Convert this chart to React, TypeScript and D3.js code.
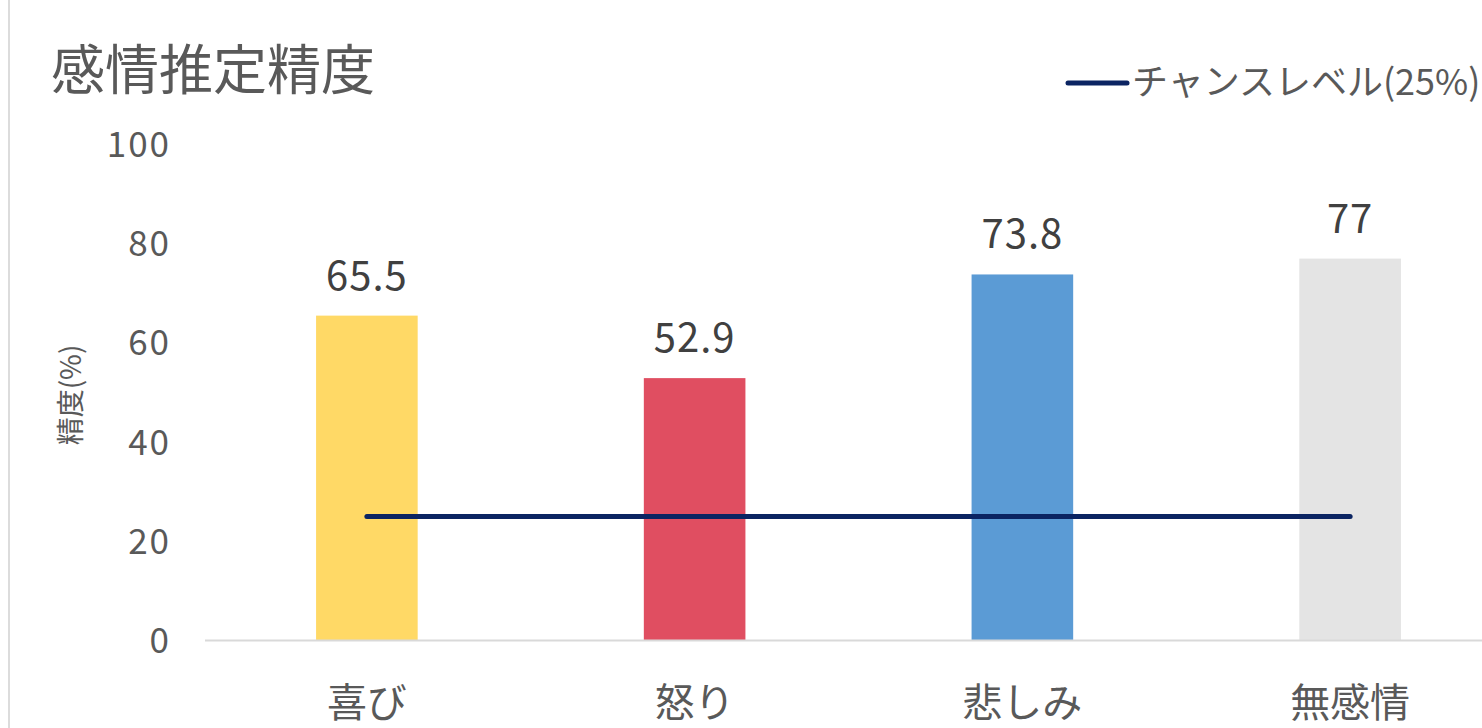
import React, { useRef, useEffect } from 'react';
import * as d3 from 'd3';

const categories = ['喜び', '怒り', '悲しみ', '無感情'];
const accuracy = [65.5, 52.9, 73.8, 77];
const barColors = ['#FFD966', '#E04E61', '#5B9BD5', '#E4E4E4'];
const chanceLevel = 25;
const yTicks = [0, 20, 40, 60, 80, 100];

const FONT = '"Noto Sans CJK JP", "Noto Sans", sans-serif';

const App: React.FC = () => {
  const ref = useRef<SVGSVGElement>(null);

  useEffect(() => {
    if (!ref.current) return;
    const svg = d3.select(ref.current);
    svg.selectAll('*').remove();

    const width = 1482;

    const x = d3.scaleBand<string>()
      .domain(categories)
      .range([203, 1514])
      .paddingInner(0.69)
      .paddingOuter(0.345);

    const y = d3.scaleLinear()
      .domain([0, 100])
      .range([640.5, 144.5]);

    // left frame edge
    svg.append('line')
      .attr('x1', 9).attr('x2', 9)
      .attr('y1', 0).attr('y2', 728)
      .attr('stroke', '#dcdcdc')
      .attr('stroke-width', 2);

    // title
    svg.append('text')
      .attr('x', 51)
      .attr('y', 90)
      .attr('font-family', FONT)
      .attr('font-size', 54)
      .attr('fill', '#595959')
      .text('感情推定精度');

    // legend
    svg.append('line')
      .attr('x1', 1068).attr('x2', 1127)
      .attr('y1', 83).attr('y2', 83)
      .attr('stroke', '#0B2462')
      .attr('stroke-width', 5)
      .attr('stroke-linecap', 'round');
    svg.append('text')
      .attr('x', 1132)
      .attr('y', 95)
      .attr('font-family', FONT)
      .attr('font-size', 36)
      .attr('fill', '#595959')
      .text('チャンスレベル(25%)');

    // y axis
    const yAxis = d3.axisLeft(y).tickValues(yTicks).tickSize(0).tickPadding(0);
    const gy = svg.append('g')
      .attr('transform', 'translate(171,0)')
      .call(yAxis);
    gy.select('.domain').remove();
    gy.selectAll('text')
      .attr('font-family', FONT)
      .attr('font-size', 35)
      .attr('letter-spacing', 2)
      .attr('fill', '#595959')
      .attr('dy', '0.34em');

    // y axis title
    svg.append('text')
      .attr('transform', 'translate(81,395) rotate(-90)')
      .attr('text-anchor', 'middle')
      .attr('font-family', FONT)
      .attr('font-size', 28)
      .attr('fill', '#595959')
      .text('精度(%)');

    // bars
    svg.append('g')
      .selectAll('rect')
      .data(categories)
      .join('rect')
      .attr('x', d => x(d) as number)
      .attr('width', x.bandwidth())
      .attr('y', (d, i) => y(accuracy[i]))
      .attr('height', (d, i) => y(0) - y(accuracy[i]))
      .attr('fill', (d, i) => barColors[i]);

    // baseline
    svg.append('line')
      .attr('x1', 205).attr('x2', width)
      .attr('y1', y(0)).attr('y2', y(0))
      .attr('stroke', '#d9d9d9')
      .attr('stroke-width', 2);

    // value labels
    svg.append('g')
      .selectAll('text')
      .data(categories)
      .join('text')
      .attr('x', d => (x(d) as number) + x.bandwidth() / 2)
      .attr('y', (d, i) => y(accuracy[i]) - 26)
      .attr('text-anchor', 'middle')
      .attr('font-family', FONT)
      .attr('font-size', 40)
      .attr('letter-spacing', 1)
      .attr('fill', '#404040')
      .text((d, i) => String(accuracy[i]));

    // category labels
    const xAxis = d3.axisBottom(x).tickSize(0).tickPadding(0);
    const gx = svg.append('g')
      .attr('transform', `translate(0,${y(0)})`)
      .call(xAxis);
    gx.select('.domain').remove();
    gx.selectAll('text')
      .attr('font-family', FONT)
      .attr('font-size', 40)
      .attr('fill', '#595959')
      .attr('dy', '1.9em');

    // chance level line
    const line = d3.line<string>()
      .x(d => (x(d) as number) + x.bandwidth() / 2)
      .y(() => y(chanceLevel));
    svg.append('path')
      .datum(categories)
      .attr('d', line)
      .attr('fill', 'none')
      .attr('stroke', '#0B2462')
      .attr('stroke-width', 5)
      .attr('stroke-linecap', 'round');
  }, []);

  return (
    <svg
      ref={ref}
      width={1482}
      height={728}
      style={{ position: 'fixed', top: 0, left: 0, background: '#fff' }}
    />
  );
};

export default App;
